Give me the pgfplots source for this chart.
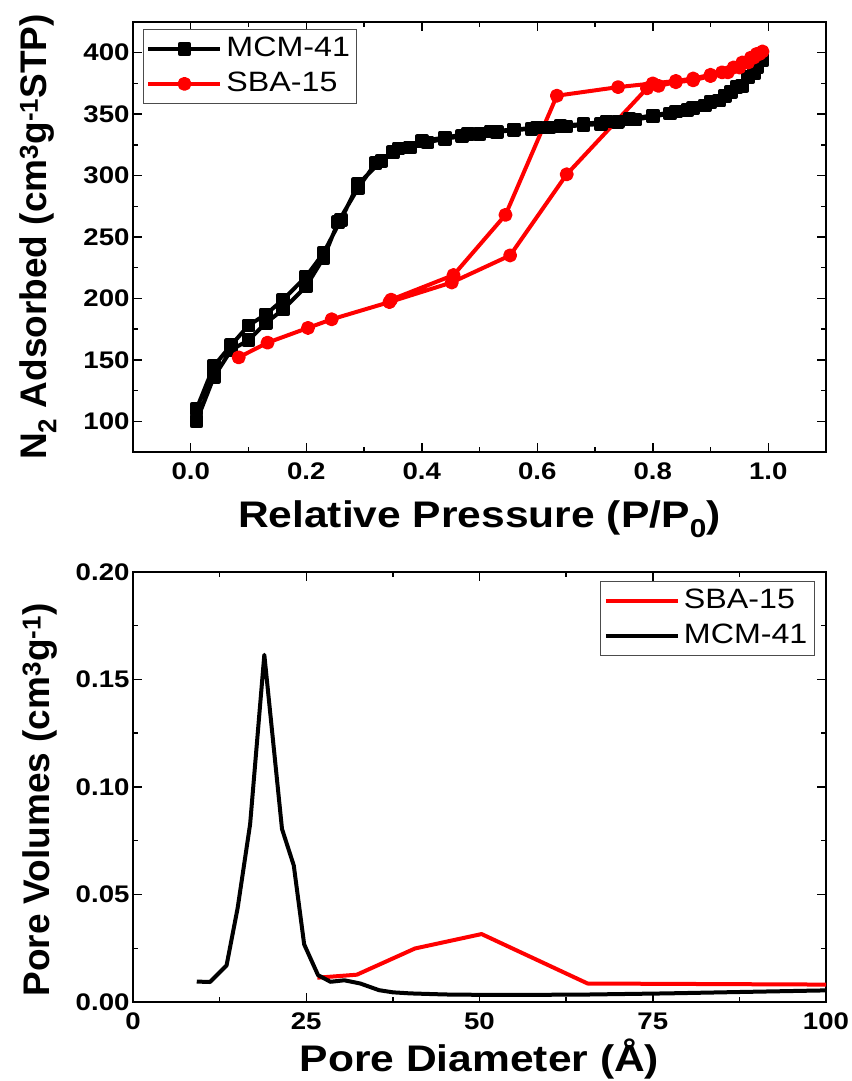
\documentclass[border=0pt]{standalone}
\usepackage{fontspec}
\setmainfont{Liberation Sans}
\newfontfamily\stretched[FakeStretch=1.15]{Liberation Sans}
\usepackage{pgfplots}
\pgfplotsset{compat=1.18}

\newcommand\tickfont{\stretched\bfseries\fontsize{24}{28}\selectfont}
\newcommand\labfont{\stretched\bfseries\fontsize{37}{44}\selectfont}
\newcommand\ylabfont{\bfseries\fontsize{37}{44}\selectfont}
\newcommand\legfont{\stretched\fontsize{28}{33}\selectfont}

\pgfplotsset{
  myaxis/.style={
    scale only axis, width=693pt, height=430pt,
    axis line style={line width=1.8pt},
    tick align=inside, tick pos=both,
    major tick length=9pt, minor tick length=5pt,
    major tick style={line width=1.5pt,black},
    minor tick style={line width=1.5pt,black},
    ticklabel style={font=\tickfont},
    xticklabel style={yshift=-7pt},
    /pgf/number format/assume math mode=true,
    xlabel style={font=\labfont, at={(axis description cs:0.5,0)}, anchor=base},
    ylabel style={font=\ylabfont, anchor=center},
    legend cell align=left,
    legend style={font=\legfont, draw=black!70, line width=1pt,
      nodes={text height=21pt, text depth=6pt, inner sep=4pt},
      row sep=0pt, inner xsep=3pt, inner ysep=2pt},
    legend image code/.code={\draw[mark repeat=2,mark phase=2,##1] plot coordinates {(0pt,0pt) (36pt,0pt) (72pt,0pt)};},
  }
}

\begin{document}
\begin{tikzpicture}
\useasboundingbox (-133pt,-79pt) rectangle (718pt,1002pt);

% ---------- top: isotherms ----------
\begin{axis}[myaxis, at={(0pt,550pt)}, anchor=south west,
  xmin=-0.1, xmax=1.1, ymin=75, ymax=425,
  xtick={0,0.2,0.4,0.6,0.8,1.0}, minor x tick num=1,
  ytick={100,150,200,250,300,350,400}, minor y tick num=1,
  xticklabel style={/pgf/number format/.cd, fixed, fixed zerofill, precision=1},
  xlabel={Relative Pressure (P/P\textsubscript{0})},
  xlabel style={yshift=-76pt},
  ylabel={N\textsubscript{2} Adsorbed (cm\textsuperscript{3}g\textsuperscript{-1}STP)},
  ylabel style={at={(axis description cs:-0.137,0.5)}},
  legend style={at={(axis description cs:0.0144,0.984)}, anchor=north west},
]
\addplot[black, line width=4pt, line join=round, mark=square*, mark size=4.8pt, mark options={solid, fill=black}]
coordinates {
(0.01,100) (0.04,136) (0.07,158) (0.10,166) (0.13,180) (0.16,191) (0.20,210) (0.23,233) (0.255,262) (0.29,290) (0.32,310) (0.35,319) (0.38,323) (0.41,327) (0.44,330) (0.47,332) (0.50,334) (0.53,335.5) (0.56,337) (0.59,338) (0.62,339) (0.65,340) (0.68,341) (0.71,342) (0.74,343.5) (0.77,345.5) (0.80,348) (0.83,350.5) (0.86,353.5) (0.89,357) (0.915,361) (0.935,368) (0.955,373) (0.975,383) (0.99,394)
(0.98,388) (0.965,380) (0.945,372) (0.925,365) (0.90,360) (0.87,355) (0.84,352) (0.80,349) (0.76,346) (0.72,344) (0.68,342) (0.64,340.5) (0.60,339) (0.56,337.5) (0.52,336) (0.48,334) (0.44,331) (0.40,328) (0.36,322) (0.33,312) (0.29,293) (0.26,264) (0.23,237) (0.20,218) (0.16,199) (0.13,187) (0.10,178) (0.07,162) (0.04,145) (0.01,110)
};
\addlegendentry{MCM-41}
\addplot[red, line width=4pt, line join=round, mark=*, mark size=5pt, mark options={solid, fill=red}]
coordinates {
(0.083,152) (0.133,164) (0.203,176) (0.244,183) (0.344,197) (0.452,213) (0.553,235) (0.651,301) (0.79,371) (0.81,373) (0.84,376) (0.87,377.5) (0.90,381) (0.93,384) (0.95,388) (0.965,392) (0.975,396) (0.985,399) (0.99,401)
(0.98,399) (0.97,396) (0.955,392) (0.94,388) (0.92,384) (0.90,382) (0.87,379) (0.84,377) (0.80,375) (0.74,372) (0.634,365) (0.545,268) (0.455,219) (0.347,199)
};
\addlegendentry{SBA-15}
\end{axis}

% ---------- bottom: pore size distribution ----------
\begin{axis}[myaxis, at={(0pt,0pt)}, anchor=south west,
  xmin=0, xmax=100, ymin=0, ymax=0.2,
  xtick={0,25,50,75,100}, minor x tick num=1,
  ytick={0,0.05,0.10,0.15,0.20}, minor y tick num=1,
  yticklabel style={/pgf/number format/.cd, fixed, fixed zerofill, precision=2},
  xlabel={Pore Diameter (Å)},
  xlabel style={yshift=-69pt},
  ylabel={Pore Volumes (cm\textsuperscript{3}g\textsuperscript{-1})},
  ylabel style={at={(axis description cs:-0.134,0.47)}},
  legend style={at={(axis description cs:0.984,0.979)}, anchor=north east},
]
\addplot[red, line width=4pt, line join=round, no marks]
coordinates {
(26.6,0.0113) (32.3,0.0127) (40.7,0.0249) (50.3,0.0316) (65.6,0.0086) (100,0.0081)
};
\addlegendentry{SBA-15}
\addplot[black, line width=4pt, line join=round, no marks]
coordinates {
(9.2,0.0095) (11.1,0.0093) (13.5,0.0170) (15.1,0.0437) (16.9,0.0827) (18.95,0.1615) (21.5,0.0805) (23.2,0.0635) (24.7,0.0268) (26.7,0.0125) (28.5,0.0094) (30.5,0.0101) (32.8,0.0086) (35.5,0.0055) (37.5,0.0045) (40,0.0040) (45,0.0035) (51,0.0033) (64,0.0034) (77,0.0040) (90,0.0048) (100,0.0054)
};
\addlegendentry{MCM-41}
\end{axis}
\end{tikzpicture}
\end{document}
